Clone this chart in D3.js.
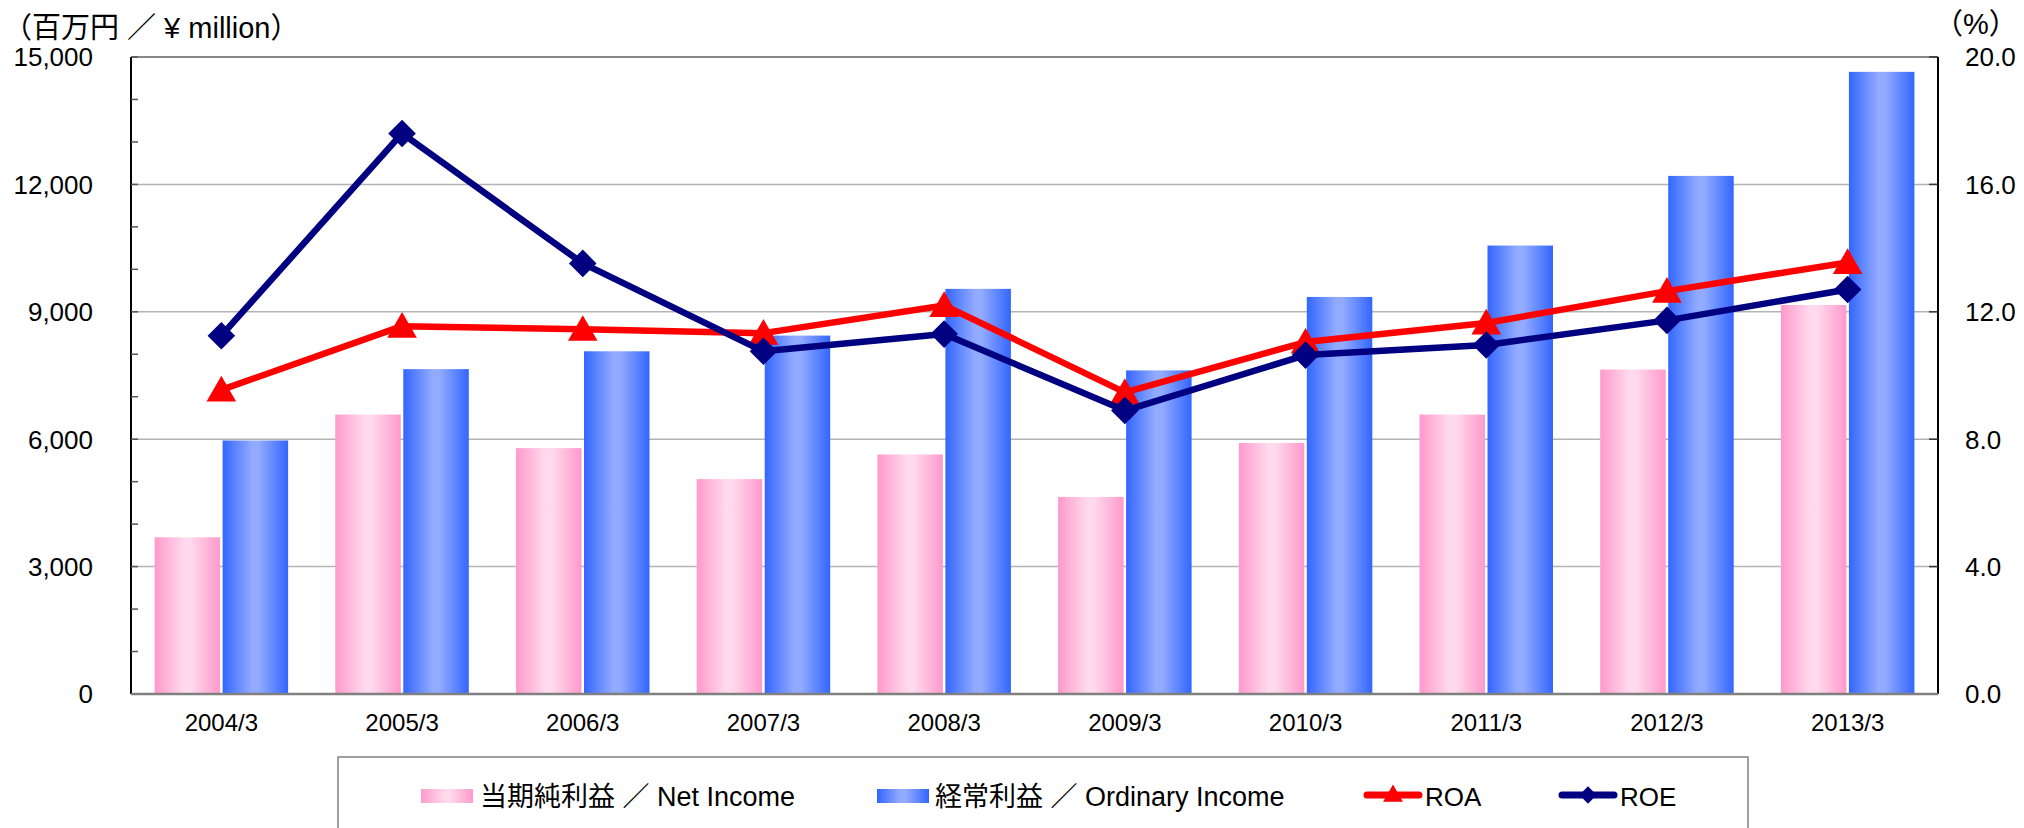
<!DOCTYPE html>
<html>
<head>
<meta charset="utf-8">
<script src="https://cdn.jsdelivr.net/npm/d3@7"></script>
<style>
  body { margin: 0; background: #fff; }
  svg text { font-family: "Liberation Sans", "Noto Sans CJK JP", sans-serif; fill: #000; }
</style>
</head>
<body>
<div id="chart"></div>
<script>
const width = 2024;
const height = 828;

// data
const years = ["2004/3", "2005/3", "2006/3", "2007/3", "2008/3", "2009/3", "2010/3", "2011/3", "2012/3", "2013/3"];
const netIncome = [3690, 6580, 5790, 5060, 5640, 4640, 5910, 6580, 7640, 9160];
const ordinaryIncome = [5970, 7650, 8070, 8440, 9540, 7620, 9350, 10560, 12200, 14650];
const roa = [9.55, 11.55, 11.45, 11.33, 12.2, 9.47, 11.05, 11.65, 12.65, 13.55];
const roe = [11.25, 17.6, 13.52, 10.76, 11.3, 8.9, 10.64, 10.96, 11.73, 12.7];
const leftTicks = [0, 3000, 6000, 9000, 12000, 15000];
const rightTicks = [0, 4, 8, 12, 16, 20];

const plot = { left: 131, right: 1938, top: 57, bottom: 694 };

const svg = d3.select("#chart")
    .append("svg")
    .attr("width", width)
    .attr("height", height);

const defs = svg.append("defs");

// horizontal gradients for the bars
function barGradient(id, edge, mid) {
    const g = defs.append("linearGradient").attr("id", id)
        .attr("x1", "0%").attr("x2", "100%").attr("y1", "0%").attr("y2", "0%");
    g.append("stop").attr("offset", "0%").attr("stop-color", edge);
    g.append("stop").attr("offset", "45%").attr("stop-color", mid);
    g.append("stop").attr("offset", "55%").attr("stop-color", mid);
    g.append("stop").attr("offset", "100%").attr("stop-color", edge);
}
barGradient("gradPink", "#ff99cc", "#ffdaec");
barGradient("gradBlue", "#3366ff", "#92abff");

const x = d3.scaleBand()
    .domain(years)
    .range([plot.left, plot.right]);

const x1 = d3.scaleBand()
    .domain(["net", "ord"])
    .range([0, x.bandwidth()])
    .paddingInner(0.037)
    .paddingOuter(0.347);

const y = d3.scaleLinear().domain([0, 15000]).range([plot.bottom, plot.top]);
const y2 = d3.scaleLinear().domain([0, 20]).range([plot.bottom, plot.top]);
const cx = d => x(d) + x.bandwidth() / 2;

// gridlines
svg.append("g")
    .selectAll("line")
    .data(leftTicks.slice(1, -1))
    .enter()
    .append("line")
    .attr("x1", plot.left).attr("x2", plot.right)
    .attr("y1", d => y(d)).attr("y2", d => y(d))
    .attr("stroke", "#b4b4b4")
    .attr("stroke-width", 1.5);

// top border
svg.append("line")
    .attr("x1", plot.left).attr("x2", plot.right)
    .attr("y1", plot.top).attr("y2", plot.top)
    .attr("stroke", "#888").attr("stroke-width", 2);

// bars
const groups = svg.append("g")
    .selectAll("g")
    .data(years)
    .enter()
    .append("g")
    .attr("transform", d => `translate(${x(d)},0)`);

groups.append("rect")
    .attr("x", x1("net"))
    .attr("width", x1.bandwidth())
    .attr("y", (d, i) => y(netIncome[i]))
    .attr("height", (d, i) => y(0) - y(netIncome[i]))
    .attr("fill", "url(#gradPink)");

groups.append("rect")
    .attr("x", x1("ord"))
    .attr("width", x1.bandwidth())
    .attr("y", (d, i) => y(ordinaryIncome[i]))
    .attr("height", (d, i) => y(0) - y(ordinaryIncome[i]))
    .attr("fill", "url(#gradBlue)");

// left axis
const leftAxis = svg.append("g").attr("transform", `translate(${plot.left},0)`);
leftAxis.append("line")
    .attr("y1", plot.top).attr("y2", plot.bottom)
    .attr("stroke", "#000").attr("stroke-width", 2);
leftAxis.selectAll(".minor")
    .data(d3.range(0, 15001, 1000))
    .enter()
    .append("line")
    .attr("x1", 0).attr("x2", 7)
    .attr("y1", d => y(d)).attr("y2", d => y(d))
    .attr("stroke", "#555").attr("stroke-width", 1.5);
leftAxis.selectAll("text")
    .data(leftTicks)
    .enter()
    .append("text")
    .attr("x", -38)
    .attr("y", d => y(d))
    .attr("dy", "0.36em")
    .attr("text-anchor", "end")
    .attr("font-size", 26)
    .text(d => d3.format(",")(d));

// right axis
const rightAxis = svg.append("g").attr("transform", `translate(${plot.right},0)`);
rightAxis.append("line")
    .attr("y1", plot.top).attr("y2", plot.bottom)
    .attr("stroke", "#000").attr("stroke-width", 2);
rightAxis.selectAll(".tick")
    .data(rightTicks)
    .enter()
    .append("line")
    .attr("x1", -9).attr("x2", 0)
    .attr("y1", d => y2(d)).attr("y2", d => y2(d))
    .attr("stroke", "#333").attr("stroke-width", 1.5);
rightAxis.selectAll("text")
    .data(rightTicks)
    .enter()
    .append("text")
    .attr("x", 27)
    .attr("y", d => y2(d))
    .attr("dy", "0.36em")
    .attr("font-size", 26)
    .text(d => d3.format(".1f")(d));

// bottom axis
svg.append("line")
    .attr("x1", plot.left).attr("x2", plot.right)
    .attr("y1", plot.bottom).attr("y2", plot.bottom)
    .attr("stroke", "#808080").attr("stroke-width", 2.5);

svg.append("g")
    .selectAll("text")
    .data(years)
    .enter()
    .append("text")
    .attr("x", cx)
    .attr("y", 731)
    .attr("text-anchor", "middle")
    .attr("font-size", 24)
    .text(d => d);

// axis titles
svg.append("text")
    .attr("x", 3).attr("y", 38)
    .attr("font-size", 29)
    .text("（百万円 ／ ¥ million）");
svg.append("text")
    .attr("x", 1934).attr("y", 34)
    .attr("font-size", 29)
    .text("（%）");

// lines
const lineGen = d3.line()
    .x((d, i) => cx(years[i]))
    .y(d => y2(d));

svg.append("path")
    .datum(roa)
    .attr("d", lineGen)
    .attr("fill", "none")
    .attr("stroke", "#ff0000")
    .attr("stroke-width", 6.5)
    .attr("stroke-linejoin", "round");

svg.append("g")
    .selectAll("path")
    .data(roa)
    .enter()
    .append("path")
    .attr("d", d3.symbol().type(d3.symbolTriangle).size(380))
    .attr("transform", (d, i) => `translate(${cx(years[i])},${y2(d) + 3})`)
    .attr("fill", "#ff0000");

svg.append("path")
    .datum(roe)
    .attr("d", lineGen)
    .attr("fill", "none")
    .attr("stroke", "#000080")
    .attr("stroke-width", 6.5)
    .attr("stroke-linejoin", "round");

svg.append("g")
    .selectAll("path")
    .data(roe)
    .enter()
    .append("path")
    .attr("d", d3.symbol().type(d3.symbolSquare).size(380))
    .attr("transform", (d, i) => `translate(${cx(years[i])},${y2(d)}) rotate(45)`)
    .attr("fill", "#000080");

// legend
const legend = svg.append("g");
legend.append("rect")
    .attr("x", 338).attr("y", 757)
    .attr("width", 1410).attr("height", 100)
    .attr("fill", "none")
    .attr("stroke", "#808080")
    .attr("stroke-width", 1.5);

const legendY = 796;
legend.append("rect")
    .attr("x", 421).attr("y", legendY - 7)
    .attr("width", 52).attr("height", 14)
    .attr("fill", "url(#gradPink)");
legend.append("text")
    .attr("x", 480).attr("y", legendY + 10)
    .attr("font-size", 27)
    .text("当期純利益 ／ Net Income");

legend.append("rect")
    .attr("x", 877).attr("y", legendY - 7)
    .attr("width", 52).attr("height", 14)
    .attr("fill", "url(#gradBlue)");
legend.append("text")
    .attr("x", 935).attr("y", legendY + 10)
    .attr("font-size", 27)
    .text("経常利益 ／ Ordinary Income");

legend.append("line")
    .attr("x1", 1367).attr("x2", 1419)
    .attr("y1", legendY - 1).attr("y2", legendY - 1)
    .attr("stroke", "#ff0000").attr("stroke-width", 7)
    .attr("stroke-linecap", "round");
legend.append("path")
    .attr("d", d3.symbol().type(d3.symbolTriangle).size(170))
    .attr("transform", `translate(1393,${legendY})`)
    .attr("fill", "#ff0000");
legend.append("text")
    .attr("x", 1425).attr("y", legendY + 10)
    .attr("font-size", 26)
    .text("ROA");

legend.append("line")
    .attr("x1", 1562).attr("x2", 1614)
    .attr("y1", legendY - 1).attr("y2", legendY - 1)
    .attr("stroke", "#000080").attr("stroke-width", 7)
    .attr("stroke-linecap", "round");
legend.append("path")
    .attr("d", d3.symbol().type(d3.symbolSquare).size(150))
    .attr("transform", `translate(1588,${legendY - 1}) rotate(45)`)
    .attr("fill", "#000080");
legend.append("text")
    .attr("x", 1620).attr("y", legendY + 10)
    .attr("font-size", 26)
    .text("ROE");
</script>
</body>
</html>
